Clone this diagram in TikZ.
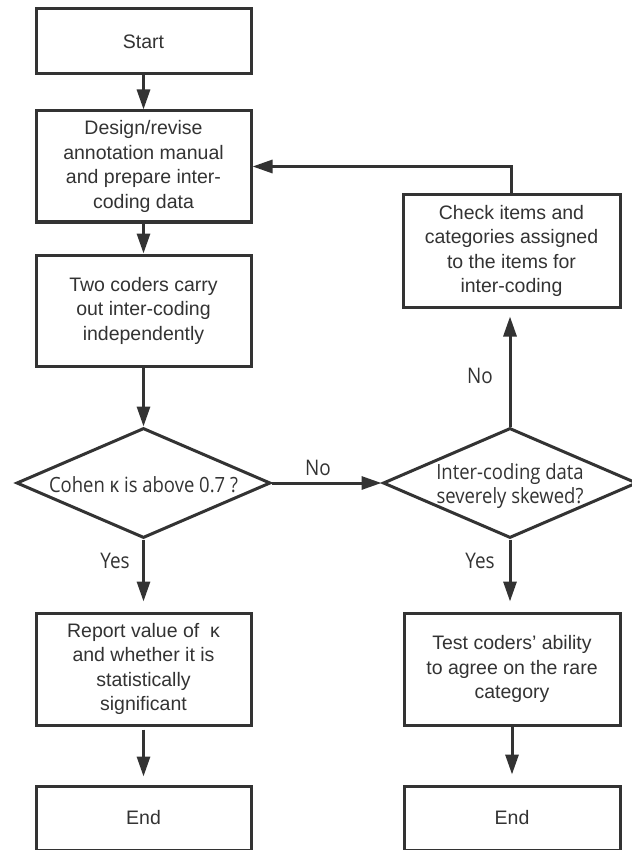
\documentclass[tikz,border=0pt]{standalone}
\usepackage{fontspec}
\setmainfont{Liberation Sans}
\newfontfamily\dfont{Open Sans}[FakeStretch=0.88]
\usetikzlibrary{shapes.geometric,arrows.meta}
\definecolor{ln}{HTML}{333333}
\definecolor{tx}{HTML}{333333}
\begin{document}
\begin{tikzpicture}[x=1pt,y=-1pt,
  box/.style={draw=ln, line width=3pt, rectangle, minimum width=215pt, inner sep=0pt,
    align=center, text=tx, font=\fontsize{19.5}{24.5}\selectfont},
  dia/.style={draw=ln, line width=3pt, diamond, minimum width=254pt, minimum height=110pt, inner sep=0pt},
  dtext/.style={text=tx, font=\dfont\fontsize{21}{24.5}\selectfont, align=center, inner sep=0pt},
  lab/.style={text=tx, font=\dfont\fontsize{21.5}{22}\selectfont, inner sep=0pt},
  arr/.style={draw=ln, line width=3pt, -{Triangle[width=13pt,length=20pt]}},
]
\useasboundingbox (0,0) rectangle (631,850);
\fill[white] (0,0) rectangle (631,850);

\node[box, minimum height=65pt] (start) at (143.5,41.5) {Start};
\node[box, minimum height=111pt] (design) at (143.5,166.5) {Design/revise\\annotation manual\\and prepare inter-\\coding data};
\node[box, minimum height=111pt] (coders) at (143.5,310.5) {Two coders carry\\out inter-coding\\independently};
\node[dia] (dec1) at (143.5,483) {};
\node[dtext] (dec1t) at (143.5,485) {Cohen κ is above 0.7 ?};
\node[dia] (dec2) at (510,483) {};
\node[dtext] (dec2t) at (510,486) {Inter-coding data\\severely skewed?};
\node[box, minimum width=217pt, minimum height=112pt] (check) at (511.5,251) {Check items and\\categories assigned\\to the items for\\inter-coding};
\node[box, minimum height=112pt] (report) at (143.5,669) {Report value of\ \ κ\\and whether it is\\statistically\\significant};
\node[box, minimum width=216pt, minimum height=112pt] (test) at (512,669) {Test coders’ ability\\to agree on the rare\\category};
\node[box, minimum height=64pt] (end1) at (143.5,818) {End};
\node[box, minimum width=216pt, minimum height=64pt] (end2) at (512,818) {End};

\node[lab] (no1) at (318,468) {No};
\node[lab] (no2) at (480,376) {No};
\node[lab] (yes1) at (115,561) {Yes};
\node[lab] (yes2) at (480,561) {Yes};

\draw[arr] (start) -- (design);
\draw[arr] (design) -- (coders);
\draw[arr] (coders) -- (dec1.north);
\draw[arr] (dec1.east) -- (dec2.west);
\draw[arr, shorten >=8pt] (dec2.north) -- (dec2.north |- check.south);
\draw[arr] (check.north) |- (design.east);
\draw[arr, shorten >=10pt] (dec1.south) -- (report.north);
\draw[arr, shorten >=10pt] (dec2.south) -- (dec2.south |- test.north);
\draw[arr, shorten <=3pt, shorten >=8pt] (report) -- (end1);
\draw[arr, shorten >=10pt] (test) -- (end2);
\end{tikzpicture}
\end{document}
